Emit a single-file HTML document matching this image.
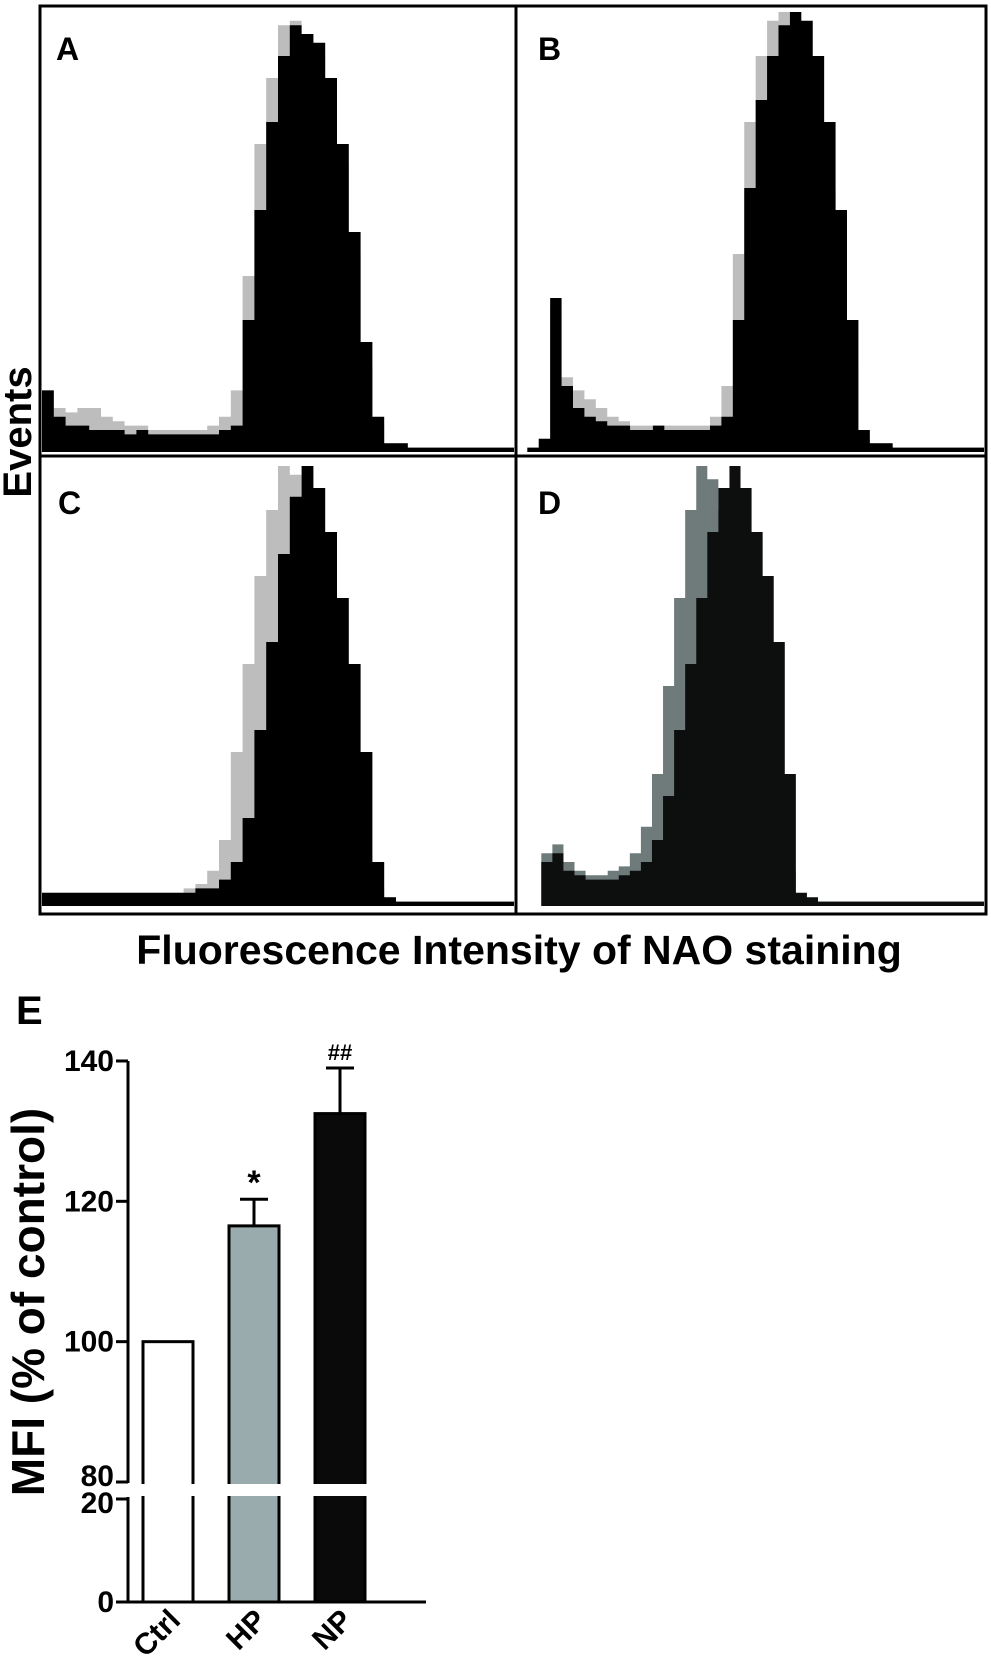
<!DOCTYPE html>
<html><head><meta charset="utf-8"><style>
body{margin:0;background:#fff;}
svg{display:block;font-family:"Liberation Sans",Arial,sans-serif;font-weight:bold;}
</style></head><body>
<svg id="fig" width="991" height="1677" viewBox="0 0 991 1677">
<g id="hist"></g>
<rect x="40" y="6" width="946" height="908" fill="none" stroke="#000" stroke-width="3"/>
<line x1="516" y1="6" x2="516" y2="914" stroke="#000" stroke-width="3"/>
<line x1="40" y1="456" x2="986" y2="456" stroke="#000" stroke-width="3"/>
<text x="56" y="60" font-size="32">A</text>
<text x="538" y="60" font-size="32">B</text>
<text x="58" y="514" font-size="32">C</text>
<text x="538" y="514" font-size="32">D</text>
<text transform="translate(31,432) rotate(-90)" text-anchor="middle" font-size="40">Events</text>
<text x="519" y="964" text-anchor="middle" font-size="41">Fluorescence Intensity of NAO staining</text>
<text x="16" y="1024" font-size="40">E</text>
<g id="bars"></g>
</svg>
<script>
const NS="http://www.w3.org/2000/svg";
// Histogram data (relative event counts, 40 bins across intensity)
const histA_black=[14,8,6,6,5,5,5,4,5,4,4,4,4,4,4,5,6,30,55,75,90,97,95,93,85,70,50,25,8,2,2,1,1,1,1,1,1,1,1,1];
const histA_gray=[14,10,9,10,10,8,7,6,6,5,5,5,5,5,6,8,14,40,70,85,97,98,95,90,80,65,45,20,6,2,2,1,1,1,1,1,1,1,1,1];
const histB_black=[1,3,35,15,10,8,7,6,6,5,5,6,5,5,5,5,6,8,30,60,80,90,97,100,98,90,75,55,30,5,2,2,1,1,1,1,1,1,1,1];
const histB_gray=[1,3,33,17,14,12,10,8,7,6,6,6,6,6,6,6,8,15,45,75,90,98,100,95,88,75,60,40,20,4,2,2,1,1,1,1,1,1,1,1];
const histC_black=[3,3,3,3,3,3,3,3,3,3,3,3,3,4,4,6,10,20,40,60,80,93,100,95,85,70,55,35,10,2,1,1,1,1,1,1,1,1,1,1];
const histC_gray=[3,3,3,3,3,3,3,3,3,3,3,3,4,5,8,15,35,55,75,90,100,98,88,72,55,35,20,10,4,2,1,1,1,1,1,1,1,1,1,1];
const histD_black=[10,12,8,7,6,6,6,7,8,10,15,25,40,55,70,85,95,100,95,85,75,60,30,3,2,1,1,1,1,1,1,1,1,1,1,1,1,1,1,1];
const histD_gray=[12,14,10,8,7,7,8,9,12,18,30,50,70,90,100,97,90,80,70,55,40,25,8,2,1,1,1,1,1,1,1,1,1,1,1,1,1,1,1,1];
const panels=[
 {id:'a',x:42,w:472,base:452,h:440,start:0,series:[[histA_gray,'#bdbdbd'],[histA_black,'#000']]},
 {id:'b',x:518,w:466,base:452,h:440,start:0.02,series:[[histB_gray,'#bdbdbd'],[histB_black,'#000']]},
 {id:'c',x:42,w:472,base:906,h:440,start:0,series:[[histC_gray,'#bdbdbd'],[histC_black,'#000']]},
 {id:'d',x:518,w:466,base:906,h:440,start:0.05,series:[[histD_gray,'#6f7b7b'],[histD_black,'#0d0f0f']]}
];
const hg=document.getElementById('hist');
panels.forEach(p=>{
  p.series.forEach((s,si)=>{
    const vals=s[0];
    const x0=p.x+p.start*p.w, bw=(p.w*(1-p.start))/vals.length;
    const yv=v=>p.base-v/100*p.h;
    let d=`M${x0},${p.base}`;
    vals.forEach((v,i)=>{d+=` L${x0+i*bw},${yv(v)} L${x0+(i+1)*bw},${yv(v)}`;});
    d+=` L${x0+vals.length*bw},${p.base} Z`;
    const path=document.createElementNS(NS,'path');
    path.setAttribute('d',d);path.setAttribute('fill',s[1]);
    
    
    hg.appendChild(path);
  });
});
// Bar chart data
const categories=['Ctrl','HP','NP'];
const means=[100,116.5,132.5];
const errors=[0,3.8,6.5];
const sigLabels=['','*','##'];
const upperTicks=[80,100,120,140];
const lowerTicks=[0,20];
const fills=['#fff','#9aabad','#0a0a0a'];
const centers=[168,254,340], bw=50, axX=128;
function yScale(v){ if(v>=80) return 1482-(v-80)*7.017; return 1602-Math.min(v,20)*5.15; }
const bg=document.getElementById('bars');
function el(tag,attrs,name,inter){const e=document.createElementNS(NS,tag);for(const k in attrs)e.setAttribute(k,attrs[k]);bg.appendChild(e);return e;}
categories.forEach((c,i)=>{
  const x=centers[i]-bw/2;
  el('rect',{x:x,y:yScale(means[i]),width:bw,height:1602-yScale(means[i]),fill:fills[i],stroke:'#000','stroke-width':3},'bar-'+c.toLowerCase(),'false');
  el('rect',{x:x-3,y:1484,width:bw+6,height:12,fill:'#fff'},'axis-break-gap','false');
  if(errors[i]>0){
    const yt=yScale(means[i]+errors[i]);
    el('line',{x1:centers[i],x2:centers[i],y1:yScale(means[i]),y2:yt,stroke:'#000','stroke-width':3},'error-bar-'+c.toLowerCase(),'false');
    el('line',{x1:centers[i]-14,x2:centers[i]+14,y1:yt,y2:yt,stroke:'#000','stroke-width':3},'error-cap-'+c.toLowerCase(),'false');
    const t=el('text',{x:centers[i],y:yt-(sigLabels[i]==='*'?5:8),'text-anchor':'middle','font-size':sigLabels[i]==='*'?34:22},'significance-'+c.toLowerCase(),'false');
    t.textContent=sigLabels[i];
  }
  const lt=el('text',{transform:`translate(${centers[i]+14},${1622}) rotate(-45)`,'text-anchor':'end','font-size':30},'x-label-'+c.toLowerCase(),'false');
  lt.textContent=c;
});
el('line',{x1:axX,x2:axX,y1:1061,y2:1483,stroke:'#000','stroke-width':3},'y-axis-upper','false');
el('line',{x1:axX,x2:axX,y1:1497,y2:1603,stroke:'#000','stroke-width':3},'y-axis-lower','false');
el('line',{x1:118,x2:426,y1:1602,y2:1602,stroke:'#000','stroke-width':3},'x-axis','false');
upperTicks.concat(lowerTicks).forEach(v=>{
  const y=yScale(v);
  el('line',{x1:axX-12,x2:axX,y1:y,y2:y,stroke:'#000','stroke-width':3},'y-tick-'+v,'false');
  const t=el('text',{x:114,y:y+(v===80?4:v===20?14:10),'text-anchor':'end','font-size':30},'y-tick-label-'+v,'false');
  t.textContent=v;
});
const yt=el('text',{transform:'translate(44,1302) rotate(-90)','text-anchor':'middle','font-size':46},'y-axis-title-mfi','false');
yt.textContent='MFI (% of control)';
</script>
</body></html>
